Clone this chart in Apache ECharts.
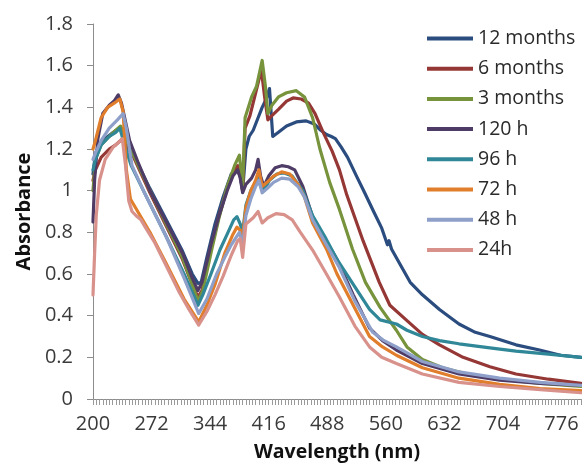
<!DOCTYPE html>
<html>
<head>
<meta charset="utf-8">
<script src="https://cdn.jsdelivr.net/npm/echarts@6/dist/echarts.min.js"></script>
<style>
html,body{margin:0;padding:0;background:#fff;}
#chart{width:582px;height:463px;}
</style>
</head>
<body>
<div id="chart"></div>
<script>
// Series names (legend order)
const seriesNames = ['12 months','6 months','3 months','120 h','96 h','72 h','48 h','24h'];

// X tick labels (nm): 200, 272, ... 776
const xTickLabels = [200,272,344,416,488,560,632,704,776];
// Y tick labels
const yTickLabels = [0,0.2,0.4,0.6,0.8,1,1.2,1.4,1.6,1.8];

// [wavelength nm, absorbance]
const months12 = [[200,1.08],[203,1.18],[208,1.22],[215,1.25],[225,1.28],[233,1.30],[238,1.27],[245,1.21],[255,1.13],[270,1.01],[290,0.86],[310,0.71],[322,0.60],[329,0.555],[333,0.56],[340,0.68],[350,0.84],[360,0.97],[370,1.08],[377,1.10],[381,1.07],[384,1.00],[388,1.20],[392,1.26],[397,1.29],[403,1.35],[408,1.40],[413,1.44],[417,1.49],[421,1.26],[428,1.28],[438,1.31],[450,1.33],[462,1.335],[472,1.32],[480,1.29],[487,1.27],[493,1.26],[498,1.25],[505,1.21],[513,1.16],[524,1.07],[534,0.99],[545,0.90],[555,0.82],[562,0.74],[564,0.76],[567,0.72],[577,0.65],[590,0.56],[605,0.50],[626,0.43],[650,0.36],[670,0.32],[688,0.30],[720,0.26],[749,0.235],[775,0.21],[800,0.20]];
const months6 = [[200,1.05],[203,1.10],[210,1.16],[220,1.20],[228,1.22],[235,1.245],[240,1.22],[250,1.16],[270,0.99],[290,0.83],[310,0.67],[322,0.55],[329,0.49],[334,0.52],[345,0.72],[355,0.88],[365,1.01],[373,1.09],[378,1.12],[381,1.08],[384,1.00],[387,1.30],[393,1.36],[400,1.47],[407,1.58],[411,1.45],[415,1.34],[420,1.36],[428,1.39],[438,1.43],[446,1.445],[456,1.44],[465,1.42],[473,1.37],[483,1.28],[494,1.19],[503,1.10],[512,0.98],[522,0.87],[532,0.76],[540,0.68],[552,0.56],[565,0.45],[585,0.38],[605,0.31],[626,0.26],[655,0.20],[688,0.155],[720,0.12],[760,0.095],[800,0.075]];
const months3 = [[200,1.00],[203,1.15],[210,1.22],[220,1.26],[228,1.29],[234,1.31],[240,1.25],[250,1.17],[270,1.00],[290,0.84],[310,0.68],[322,0.55],[329,0.47],[335,0.52],[345,0.70],[355,0.87],[365,1.02],[374,1.12],[380,1.17],[384,1.02],[387,1.35],[395,1.45],[401,1.50],[408,1.625],[412,1.50],[415,1.37],[420,1.41],[428,1.45],[438,1.47],[450,1.48],[460,1.45],[470,1.35],[479,1.20],[491,1.04],[503,0.91],[519,0.72],[535,0.56],[553,0.44],[573,0.33],[586,0.25],[605,0.19],[630,0.15],[660,0.12],[700,0.095],[750,0.075],[800,0.06]];
const hours120 = [[200,0.85],[202,1.05],[206,1.25],[212,1.37],[220,1.41],[226,1.43],[231,1.46],[235,1.42],[240,1.33],[245,1.24],[255,1.14],[270,1.00],[290,0.85],[310,0.70],[322,0.58],[329,0.52],[334,0.56],[345,0.74],[355,0.88],[365,1.00],[372,1.07],[378,1.10],[381,1.06],[384,0.99],[388,1.03],[395,1.06],[400,1.10],[403,1.15],[406,1.07],[410,1.02],[416,1.07],[424,1.11],[432,1.12],[440,1.115],[448,1.10],[458,1.02],[470,0.875],[485,0.77],[500,0.67],[520,0.50],[540,0.34],[556,0.28],[573,0.235],[605,0.17],[650,0.12],[700,0.09],[750,0.075],[800,0.065]];
const hours96 = [[200,1.10],[203,1.15],[210,1.22],[220,1.26],[228,1.28],[233,1.30],[238,1.23],[247,1.12],[262,1.00],[290,0.78],[312,0.60],[329,0.45],[335,0.50],[345,0.60],[356,0.715],[366,0.80],[373,0.86],[377,0.875],[381,0.84],[384,0.80],[388,0.93],[394,1.00],[400,1.04],[403,1.07],[406,1.02],[410,1.00],[417,1.05],[426,1.08],[435,1.085],[445,1.07],[458,1.00],[470,0.88],[485,0.78],[500,0.67],[520,0.55],[540,0.43],[553,0.38],[573,0.36],[586,0.33],[605,0.30],[626,0.28],[650,0.265],[688,0.245],[720,0.23],[760,0.215],[800,0.20]];
const hours72 = [[200,1.20],[203,1.24],[210,1.35],[218,1.40],[226,1.42],[233,1.44],[237,1.38],[241,1.10],[246,0.96],[255,0.90],[270,0.80],[290,0.65],[312,0.48],[330,0.37],[340,0.45],[350,0.55],[362,0.70],[372,0.79],[377,0.825],[381,0.81],[384,0.78],[388,0.92],[394,1.00],[400,1.05],[404,1.10],[408,1.02],[414,1.04],[422,1.07],[432,1.09],[442,1.08],[452,1.03],[460,0.97],[470,0.845],[487,0.72],[500,0.60],[520,0.45],[540,0.30],[556,0.25],[573,0.21],[605,0.15],[650,0.10],[700,0.07],[750,0.05],[800,0.04]];
const hours48 = [[200,1.15],[203,1.18],[210,1.24],[220,1.30],[230,1.34],[237,1.37],[241,1.30],[248,1.12],[262,1.00],[290,0.78],[312,0.58],[330,0.41],[340,0.48],[352,0.60],[362,0.68],[370,0.74],[380,0.80],[384,0.74],[388,0.88],[394,0.96],[400,1.02],[404,1.05],[408,0.99],[414,1.01],[422,1.04],[432,1.06],[442,1.055],[452,1.02],[460,0.97],[470,0.86],[487,0.74],[503,0.63],[522,0.47],[544,0.32],[558,0.28],[573,0.25],[605,0.18],[650,0.13],[700,0.10],[750,0.08],[800,0.065]];
const hours24 = [[200,0.50],[202,0.70],[204,0.88],[208,1.05],[215,1.15],[225,1.21],[231,1.23],[236,1.25],[240,1.12],[244,0.95],[248,0.90],[253,0.88],[259,0.86],[265,0.82],[276,0.75],[290,0.64],[305,0.52],[318,0.43],[330,0.355],[340,0.42],[350,0.50],[360,0.59],[370,0.69],[378,0.76],[381,0.77],[384,0.68],[388,0.84],[397,0.87],[403,0.90],[408,0.845],[415,0.87],[425,0.89],[435,0.885],[445,0.86],[455,0.80],[470,0.715],[487,0.60],[503,0.49],[522,0.35],[540,0.25],[555,0.20],[573,0.17],[605,0.12],[650,0.08],[700,0.06],[750,0.045],[800,0.03]];

const seriesData = [months12, months6, months3, hours120, hours96, hours72, hours48, hours24];
const colors = ['#2B4C7E','#953735','#77933C','#4E3B66','#2F8797','#E07E2C','#8E9FC9','#D8918B'];

const FONT = '"Open Sans", "Liberation Sans", sans-serif';
const chart = echarts.init(document.getElementById('chart'), null, {renderer: 'canvas'});

chart.setOption({
  animation: false,
  backgroundColor: '#ffffff',
  color: colors,
  textStyle: {fontFamily: FONT},
  grid: {left: 93, right: 1, top: 24, bottom: 64, containLabel: false, outerBoundsMode: 'none'},
  legend: {
    orient: 'vertical',
    left: 422,
    top: 23,
    icon: 'rect',
    itemWidth: 46,
    itemHeight: 4,
    itemGap: 9.2,
    data: seriesNames,
    textStyle: {fontFamily: FONT, fontSize: 19.5, lineHeight: 21, color: '#2a2a2a'}
  },
  xAxis: [{
    type: 'value',
    min: xTickLabels[0],
    max: 800,
    interval: xTickLabels[1] - xTickLabels[0],
    position: 'bottom',
    name: 'Wavelength (nm)',
    nameLocation: 'middle',
    nameGap: 43,
    nameTextStyle: {fontFamily: FONT, fontSize: 19.5, fontWeight: 'bold', color: '#111'},
    axisLine: {show: true, onZero: false, lineStyle: {color: '#8c8c8c', width: 1}},
    axisTick: {show: true, inside: false, length: 6, lineStyle: {color: '#8c8c8c'}},
    axisLabel: {fontFamily: FONT, fontSize: 20, color: '#3a3a3a', margin: 15, showMaxLabel: false, showMinLabel: true,
      formatter: v => (xTickLabels.indexOf(v) >= 0 ? String(v) : '')},
    splitLine: {show: false}
  }, {
    type: 'value',
    min: 200,
    max: 800,
    interval: 4,
    position: 'bottom',
    axisLine: {show: false},
    axisTick: {show: true, inside: false, length: 6, lineStyle: {color: '#9a9a9a'}},
    axisLabel: {show: false},
    splitLine: {show: false}
  }],
  yAxis: {
    type: 'value',
    min: yTickLabels[0],
    max: yTickLabels[yTickLabels.length - 1],
    interval: 0.2,
    name: 'Absorbance',
    nameLocation: 'middle',
    nameGap: 57,
    nameTextStyle: {fontFamily: FONT, fontSize: 20, fontWeight: 'bold', color: '#111'},
    axisLine: {show: true, lineStyle: {color: '#8c8c8c', width: 1}},
    axisTick: {show: true, inside: false, length: 6, lineStyle: {color: '#8c8c8c'}},
    axisLabel: {fontFamily: FONT, fontSize: 20, color: '#3a3a3a', margin: 20,
      formatter: v => String(Math.round(v * 10) / 10)},
    splitLine: {show: false}
  },
  series: seriesNames.map((name, i) => ({
    name: name,
    type: 'line',
    xAxisIndex: 0,
    data: seriesData[i],
    showSymbol: false,
    symbol: 'none',
    smooth: false,
    lineStyle: {width: 3.2, color: colors[i], join: 'round', cap: 'round'},
    itemStyle: {color: colors[i]},
    emphasis: {disabled: true}
  }))
});
</script>
</body>
</html>
